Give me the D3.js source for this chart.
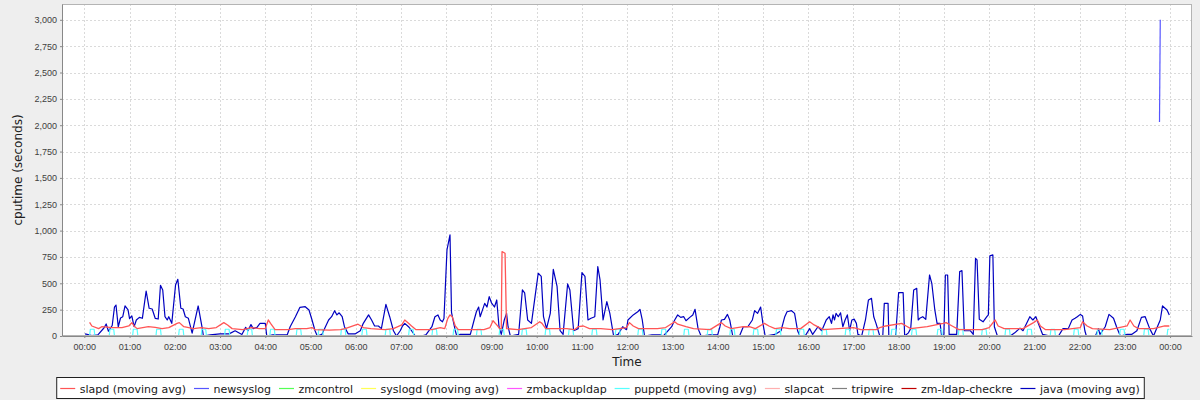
<!DOCTYPE html>
<html>
<head>
<meta charset="utf-8">
<script src="https://cdn.jsdelivr.net/npm/d3@7"></script>
<style>
body { margin: 0; background: #eeeeee; }
svg { display: block; font-family: "DejaVu Sans", sans-serif; }
.axis text { font-size: 9px; fill: #404040; }
.axis line { stroke: #888888; }
.grid line { stroke: #dadada; stroke-dasharray: 2,2; shape-rendering: crispEdges; }
.legend text { font-size: 11px; fill: #202020; }
</style>
</head>
<body>
<svg width="1200" height="400"></svg>
<script>
// series names + colours (legend order)
var seriesNames = ["slapd (moving avg)", "newsyslog", "zmcontrol", "syslogd (moving avg)", "zmbackupldap",
  "puppetd (moving avg)", "slapcat", "tripwire", "zm-ldap-checkre", "java (moving avg)"];
var seriesColors = ["#ff5555", "#5555ff", "#55ff55", "#ffff55", "#ff55ff",
  "#55ffff", "#ffafaf", "#808080", "#c00000", "#0000c0"];

var yTicks = [0, 250, 500, 750, 1000, 1250, 1500, 1750, 2000, 2250, 2500, 2750, 3000];

// [minutes after 00:00, cputime]
var java = [[1,20],[10,5],[18,10],[26,76],[29,114],[32,45],[37,100],[40,275],[42,294],[45,88],[48,171],[51,183],[54,285],[58,247],[60,165],[63,190],[66,88],[69,152],[73,177],[77,168],[82,427],[86,263],[90,256],[94,168],[98,161],[101,481],[104,437],[107,183],[110,152],[112,183],[116,120],[121,484],[124,538],[128,263],[131,256],[134,183],[138,168],[143,28],[151,285],[156,88],[158,0],[167,10],[180,20],[192,20],[200,50],[209,15],[214,82],[217,50],[221,108],[224,70],[229,82],[233,120],[240,120],[242,0],[250,10],[260,10],[269,10],[273,88],[280,183],[286,272],[293,278],[298,247],[302,152],[306,50],[309,0],[315,15],[324,152],[328,183],[332,240],[335,200],[338,220],[342,183],[345,88],[350,20],[359,20],[366,50],[370,120],[377,200],[381,152],[385,95],[390,95],[394,70],[400,300],[405,183],[410,50],[414,0],[419,50],[422,95],[425,120],[430,88],[434,50],[439,0],[447,0],[453,10],[461,88],[465,183],[469,200],[472,152],[475,135],[477,165],[481,817],[485,959],[487,225],[489,152],[492,50],[494,0],[498,15],[512,15],[517,152],[520,230],[523,275],[525,183],[528,245],[531,310],[534,275],[537,373],[540,315],[544,275],[547,342],[550,88],[553,15],[557,152],[560,215],[562,88],[565,0],[576,15],[581,437],[584,410],[588,152],[593,120],[599,437],[602,595],[606,566],[609,183],[613,70],[618,215],[622,633],[627,470],[631,50],[635,15],[641,494],[644,437],[649,50],[655,70],[660,601],[664,566],[668,152],[672,168],[677,183],[681,658],[684,532],[688,152],[693,326],[697,215],[702,0],[708,15],[714,88],[719,60],[721,152],[728,200],[734,230],[737,253],[740,152],[743,0],[753,10],[765,10],[768,0],[779,88],[783,152],[787,200],[791,177],[795,183],[798,145],[803,177],[807,200],[810,253],[814,70],[818,0],[830,10],[840,10],[843,88],[845,152],[849,158],[853,205],[856,152],[860,0],[869,0],[874,88],[880,88],[886,152],[889,240],[893,215],[897,275],[900,120],[903,0],[916,15],[924,50],[929,183],[932,230],[938,240],[942,215],[946,50],[949,0],[956,0],[962,70],[966,15],[973,88],[978,50],[984,152],[988,183],[991,120],[993,200],[995,152],[997,215],[1000,183],[1003,220],[1006,88],[1009,152],[1012,200],[1015,50],[1018,152],[1021,160],[1024,120],[1026,15],[1031,0],[1036,152],[1040,342],[1044,357],[1047,183],[1050,120],[1055,0],[1059,0],[1061,310],[1066,310],[1067,0],[1076,0],[1080,411],[1086,411],[1088,0],[1093,30],[1096,70],[1100,437],[1104,452],[1106,152],[1108,168],[1112,183],[1116,158],[1121,579],[1124,500],[1128,247],[1131,120],[1135,120],[1137,0],[1140,10],[1142,579],[1145,579],[1147,15],[1157,15],[1161,611],[1164,620],[1167,50],[1175,50],[1179,15],[1182,737],[1184,722],[1187,158],[1192,135],[1197,183],[1199,200],[1201,760],[1205,770],[1207,88],[1211,0],[1228,0],[1234,30],[1241,75],[1245,50],[1254,183],[1258,152],[1262,183],[1267,88],[1271,15],[1281,0],[1292,0],[1298,70],[1305,70],[1310,152],[1314,168],[1317,183],[1321,205],[1324,190],[1327,50],[1329,0],[1341,0],[1345,70],[1347,15],[1354,88],[1359,205],[1365,168],[1369,88],[1374,0],[1383,15],[1389,15],[1396,50],[1402,177],[1407,183],[1413,70],[1418,0],[1427,152],[1430,285],[1436,247],[1439,200]];

var slapd = [[7,130],[10,95],[19,70],[23,88],[37,80],[50,80],[59,95],[63,127],[66,95],[70,70],[85,88],[94,82],[103,70],[112,80],[123,120],[126,127],[132,88],[145,70],[155,80],[165,70],[175,80],[185,127],[190,105],[196,70],[210,60],[222,80],[232,70],[240,70],[244,152],[247,120],[253,60],[270,60],[280,70],[295,70],[302,80],[306,60],[325,55],[340,60],[346,70],[363,112],[370,80],[380,70],[399,60],[410,70],[421,105],[425,152],[430,120],[434,95],[440,60],[461,60],[472,80],[478,70],[482,165],[485,200],[488,183],[492,95],[496,60],[530,60],[538,80],[542,145],[547,105],[551,70],[553,70],[554,800],[558,785],[560,70],[575,60],[593,80],[604,135],[607,120],[612,70],[640,70],[650,60],[655,88],[662,95],[670,70],[685,70],[700,60],[719,80],[723,127],[728,95],[735,70],[760,70],[771,80],[783,135],[787,112],[798,88],[808,70],[830,60],[845,127],[850,95],[858,70],[874,88],[882,88],[890,70],[902,120],[908,95],[916,70],[926,80],[935,70],[950,70],[962,135],[968,105],[980,60],[1000,70],[1020,80],[1030,60],[1050,60],[1055,80],[1063,95],[1084,120],[1090,95],[1096,70],[1118,88],[1139,120],[1143,127],[1151,95],[1160,60],[1191,60],[1200,80],[1208,152],[1212,95],[1220,70],[1245,70],[1259,127],[1264,152],[1268,95],[1275,60],[1300,60],[1321,80],[1324,135],[1330,95],[1337,70],[1360,60],[1383,95],[1387,152],[1392,95],[1398,70],[1418,70],[1433,95],[1439,95]];

var newsyslog = [[1426,2030],[1427,3000]];
var zmcontrol = [[0,0],[1439,0]];
var syslogd = [[0,2],[1439,2]];

// puppetd pulses: start minute of each bump, bump height
var puppetdStarts = [7,33,64,95,125,155,186,216,246,281,310,340,368,399,430,461,489,520,550,580,611,642,673,704,734,765,795,826,856,887,917,948,978,1009,1040,1070,1097,1131,1159,1190,1221,1250,1281,1312,1343,1373,1405,1436];
var puppetdHeight = 64;

var svg = d3.select("svg"),
  margin = {top: 4, right: 8, bottom: 64, left: 62},
  width = 1200 - margin.left - margin.right,
  height = 400 - margin.top - margin.bottom;

var base = new Date(2020, 0, 1, 0, 0);
function t(m) { return new Date(base.getTime() + m * 60000); }

var x = d3.scaleTime().domain([t(-29.6), t(1469.1)]).range([0, width]);
var y = d3.scaleLinear().domain([0, 3150]).range([height, 0]);

var g = svg.append("g").attr("transform", "translate(" + margin.left + "," + margin.top + ")");

g.append("rect").attr("width", width).attr("height", height).attr("fill", "#ffffff");

// grid
var hourTicks = x.ticks(d3.timeHour.every(1));
g.append("g").attr("class", "grid")
  .selectAll("line").data(hourTicks).enter().append("line")
  .attr("x1", function(d) { return Math.round(x(d)) + 0.5; })
  .attr("x2", function(d) { return Math.round(x(d)) + 0.5; })
  .attr("y1", 0).attr("y2", height);
g.append("g").attr("class", "grid")
  .selectAll("line").data(yTicks.slice(1)).enter().append("line")
  .attr("x1", 0).attr("x2", width)
  .attr("y1", function(d) { return Math.round(y(d)) + 0.5; })
  .attr("y2", function(d) { return Math.round(y(d)) + 0.5; });

// puppetd points from pulses
var puppetd = [[0,0]];
puppetdStarts.forEach(function(s) {
  puppetd.push([s, 0], [s + 1, puppetdHeight], [Math.min(s + 6, 1439), puppetdHeight]);
  if (s + 7 <= 1439) puppetd.push([s + 7, 0]);
});

var line = d3.line()
  .x(function(d) { return x(t(d[0])); })
  .y(function(d) { return y(d[1]); });

// drawn in reverse so first series is on top
var drawList = [
  {data: java, c: 9},
  {data: puppetd, c: 5},
  {data: syslogd, c: 3},
  {data: zmcontrol, c: 2},
  {data: newsyslog, c: 1},
  {data: slapd, c: 0}
];
svg.append("defs").append("clipPath").attr("id", "clip")
  .append("rect").attr("width", width).attr("height", height);
var lines = g.append("g").attr("clip-path", "url(#clip)");
drawList.forEach(function(s) {
  lines.append("path")
    .datum(s.data)
    .attr("fill", "none")
    .attr("stroke", seriesColors[s.c])
    .attr("stroke-width", s.c === 0 ? 1.3 : 1.2)
    .attr("stroke-linejoin", "round")
    .attr("d", line);
});

// outline
g.append("rect").attr("x", 0.5).attr("y", 0.5).attr("width", width - 1).attr("height", height - 1)
  .attr("fill", "none").attr("stroke", "#b4b4b4");

// axes
var xAxis = g.append("g").attr("class", "axis")
  .attr("transform", "translate(0," + height + ")")
  .call(d3.axisBottom(x).ticks(d3.timeHour.every(1)).tickFormat(d3.timeFormat("%H:%M"))
    .tickSize(2).tickSizeOuter(0).tickPadding(5.5));
xAxis.select(".domain").attr("stroke", "#888888");

var yAxis = g.append("g").attr("class", "axis")
  .call(d3.axisLeft(y).tickValues(yTicks).tickFormat(d3.format(","))
    .tickSize(2).tickSizeOuter(0).tickPadding(3));
yAxis.select(".domain").attr("stroke", "#888888");

svg.append("text")
  .attr("x", margin.left + width / 2).attr("y", 365.5)
  .attr("text-anchor", "middle").style("font-size", "12px").attr("fill", "#202020")
  .text("Time");

svg.append("text")
  .attr("transform", "translate(21.5," + (margin.top + height / 2) + ") rotate(-90)")
  .attr("text-anchor", "middle").style("font-size", "12px").attr("fill", "#202020")
  .text("cputime (seconds)");

// legend
var leg = svg.append("g").attr("class", "legend");
var box = leg.append("rect").attr("fill", "#ffffff").attr("stroke", "#202020");
var items = leg.append("g");
var cx = 0, gap = 8;
seriesNames.forEach(function(name, i) {
  items.append("line")
    .attr("x1", cx).attr("x2", cx + 15).attr("y1", 388.5).attr("y2", 388.5)
    .attr("stroke", seriesColors[i]).attr("stroke-width", 1.2);
  var tx = items.append("text").attr("x", cx + 19.5).attr("y", 392.5).text(name);
  cx += 19.5 + tx.node().getComputedTextLength() + gap;
});
var total = cx - gap;
var startX = 600 - total / 2;
items.attr("transform", "translate(" + startX + ",0)");
box.attr("x", startX - 3.5).attr("y", 377.5).attr("width", total + 8).attr("height", 21);
</script>
</body>
</html>
